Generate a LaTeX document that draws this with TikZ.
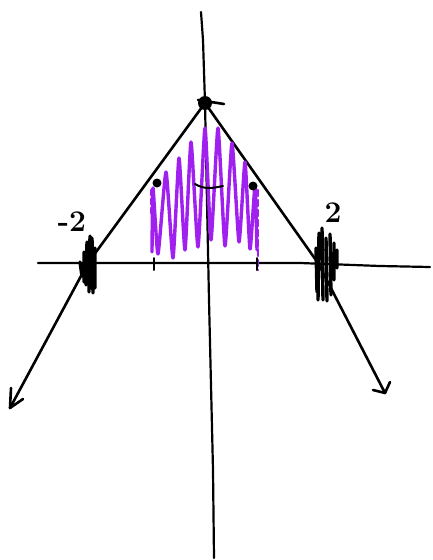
\documentclass[tikz,border=0pt]{standalone}
\usetikzlibrary{calc}
\definecolor{scrib}{RGB}{160,32,240}
\tikzset{
  ink/.style={line width=2.6pt, line cap=round, line join=round, black},
  axisline/.style={line width=2.2pt, line cap=round, black},
  shade/.style={line width=3.4pt, scrib, line cap=round, line join=round},
  blob/.style={line width=3.4pt, line cap=round, black},
  lbl/.style={font=\fontsize{30}{30}\selectfont\bfseries, inner sep=0pt}
}
\begin{document}
\begin{tikzpicture}[x=1pt,y=-1pt]
\useasboundingbox (0,0) rectangle (432,560);
% axes
\coordinate (yt) at (201,12);
\coordinate (yb) at (214,558);
\coordinate (xl) at (38,263);
\coordinate (xr) at (430,267);
\draw[axisline] (yt) -- (203,40) -- (205,103) -- (209,300) -- (213,470) -- (yb);
\draw[axisline] (xl) -- (300,263) -- (380,266) -- (xr);
% graph
\coordinate (apex) at (205,103);
\coordinate (ml) at (88,263);
\coordinate (mr) at (318,263);
\coordinate (tl) at (10,408);
\coordinate (tr) at (385,393);
\draw[ink] (apex) -- (ml) -- (tl);
\draw[ink] (apex) -- (mr) -- (tr);
\draw[ink] (tl) -- (11,388);
\draw[ink] (tl) -- (23,399);
\draw[ink] (tr) -- (373,390);
\draw[ink] (tr) -- (390,382);
% purple shading
\draw[shade] plot[smooth, tension=0.3] coordinates {(152,252) (153,188) (158,254) (166,172) (173,258) (179,158) (185,250) (191,142) (198,247) (205,128) (211,240) (218,128) (225,246) (232,143) (239,242) (245,162) (250,249) (255,186) (257,250)};
\draw[shade, line width=2.6pt, dash pattern=on 6pt off 4pt] (258,190) -- (258,270);
\draw[shade, line width=2.6pt, dash pattern=on 5pt off 4pt] (151,190) -- (151,215);
% ticks at -1 and 1
\draw[ink, line width=2pt] (154,258) -- (154,270);
\draw[ink, line width=2pt] (257,258) -- (257,270);
% dots
\fill (apex) circle (7pt);
\draw[ink] (198,100) -- (224,104);
\fill (157,183) circle (4.5pt);
\fill (253,186) circle (4.5pt);
\draw[ink, line width=2pt] (195,184) .. controls (205,190) and (213,188) .. (223,186);
% scribbles at -2 and 2
\draw[blob] (90,236) -- (89,292) (92,238) -- (93,293) (87,242) -- (86,285) (84,252) -- (84,282) (95,248) -- (95,288) (80,262) -- (82,276);
\draw[blob] (319,233) -- (318,300) (322,228) -- (323,300) (326,238) -- (327,301) (330,234) -- (331,295) (334,243) -- (334,280) (316,248) -- (317,292) (337,250) -- (337,268);
% labels
\node[lbl] (lm) at (72,222) {-2};
\node[lbl] (lp) at (333,213) {2};
\end{tikzpicture}
\end{document}
